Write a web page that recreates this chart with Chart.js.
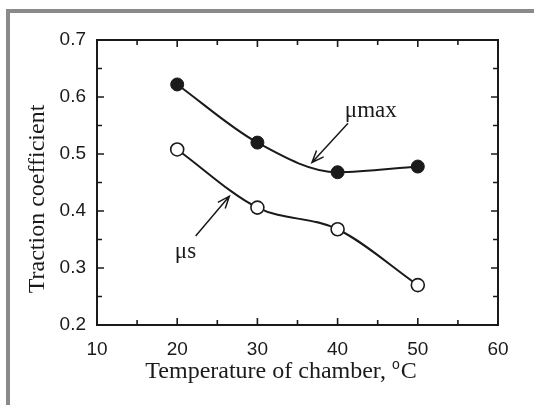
<!DOCTYPE html>
<html>
<head>
<meta charset="utf-8">
<script src="https://cdn.jsdelivr.net/npm/chart.js@4.4.0/dist/chart.umd.min.js"></script>
<style>
  html, body { margin: 0; padding: 0; background: #fff; }
  #wrap { position: relative; width: 534px; height: 405px; overflow: hidden; background: #fff; }
  #frame { position: absolute; left: 6px; top: 9px; width: 600px; height: 500px;
           border-left: 4px solid #8a8a8a; border-top: 4px solid #8a8a8a; }
  canvas { position: absolute; left: 0; top: 0; }
</style>
</head>
<body>
<div id="wrap">
  <div id="frame"></div>
  <canvas id="chart" width="534" height="405"></canvas>
</div>
<script>
// data
const temperatures = [20, 30, 40, 50];
const muMax = [0.622, 0.520, 0.468, 0.478];
const muS = [0.508, 0.406, 0.368, 0.270];

// tick labels
const xTicks = [10, 20, 30, 40, 50, 60];
const yTicks = [0.2, 0.3, 0.4, 0.5, 0.6, 0.7];
const xMinor = [15, 25, 35, 45, 55];
const yMinor = [0.25, 0.35, 0.45, 0.55, 0.65];

// annotation labels and arrows, in data units
const labels = [
  { text: '\u03bcmax', x: 40.9, y: 0.575 },
  { text: '\u03bcs', x: 19.7, y: 0.328 },
];
const arrows = [
  { from: [41.3, 0.554], to: [36.8, 0.485] },
  { from: [22.3, 0.356], to: [26.5, 0.426] },
];

const INK = '#1a1a1a';
const SERIF = '"Liberation Serif", "Times New Roman", serif';
const SANS = '"Liberation Sans", Arial, sans-serif';

const toXY = (ys) => temperatures.map((t, i) => ({ x: t, y: ys[i] }));

// frame, inward ticks, axis titles and the arrows
const decorations = {
  id: 'decorations',
  afterDraw(chart) {
    const { ctx, chartArea: a, scales } = chart;
    const xs = scales.x, ys = scales.y;
    ctx.save();
    ctx.strokeStyle = INK;
    ctx.lineWidth = 2;
    ctx.strokeRect(a.left, a.top, a.right - a.left, a.bottom - a.top);

    ctx.lineWidth = 1.6;
    const tickX = (v, len) => {
      const px = xs.getPixelForValue(v);
      ctx.beginPath();
      ctx.moveTo(px, a.bottom); ctx.lineTo(px, a.bottom - len);
      ctx.moveTo(px, a.top); ctx.lineTo(px, a.top + len);
      ctx.stroke();
    };
    const tickY = (v, len) => {
      const py = ys.getPixelForValue(v);
      ctx.beginPath();
      ctx.moveTo(a.left, py); ctx.lineTo(a.left + len, py);
      ctx.moveTo(a.right, py); ctx.lineTo(a.right - len, py);
      ctx.stroke();
    };
    xTicks.forEach(v => tickX(v, 7));
    xMinor.forEach(v => tickX(v, 5));
    yTicks.forEach(v => tickY(v, 7));
    yMinor.forEach(v => tickY(v, 5));

    // axis titles
    ctx.fillStyle = INK;
    ctx.textBaseline = 'middle';
    const main = 'Temperature of chamber, ';
    ctx.font = '24px ' + SERIF;
    const w1 = ctx.measureText(main).width;
    ctx.font = '14px ' + SANS;
    const w2 = ctx.measureText('o').width;
    ctx.font = '24px ' + SERIF;
    const w3 = ctx.measureText('C').width;
    const cx = 281;
    const x0 = cx - (w1 + w2 + w3 + 1) / 2;
    const ty = 372;
    ctx.textAlign = 'left';
    ctx.fillText(main, x0, ty);
    ctx.font = '14px ' + SANS;
    ctx.fillText('o', x0 + w1, ty - 7);
    ctx.font = '24px ' + SERIF;
    ctx.fillText('C', x0 + w1 + w2 + 1, ty);

    ctx.save();
    ctx.translate(38, 199);
    ctx.rotate(-Math.PI / 2);
    ctx.textAlign = 'center';
    ctx.fillText('Traction coefficient', 0, 0);
    ctx.restore();

    // annotation text
    ctx.font = '23px ' + SERIF;
    ctx.textAlign = 'left';
    labels.forEach(l => {
      ctx.fillText(l.text, xs.getPixelForValue(l.x), ys.getPixelForValue(l.y));
    });

    // arrows with open heads
    ctx.lineWidth = 1.5;
    arrows.forEach(ar => {
      const x1 = xs.getPixelForValue(ar.from[0]), y1 = ys.getPixelForValue(ar.from[1]);
      const x2 = xs.getPixelForValue(ar.to[0]), y2 = ys.getPixelForValue(ar.to[1]);
      const ang = Math.atan2(y2 - y1, x2 - x1);
      const hl = 13, spread = 0.38;
      ctx.beginPath();
      ctx.moveTo(x1, y1); ctx.lineTo(x2, y2);
      ctx.moveTo(x2 - hl * Math.cos(ang - spread), y2 - hl * Math.sin(ang - spread));
      ctx.lineTo(x2, y2);
      ctx.lineTo(x2 - hl * Math.cos(ang + spread), y2 - hl * Math.sin(ang + spread));
      ctx.stroke();
    });
    ctx.restore();
  }
};

const fixTicks = (list) => (scale) => { scale.ticks = list.map(v => ({ value: v })); };

new Chart(document.getElementById('chart'), {
  type: 'scatter',
  data: {
    datasets: [
      {
        label: '\u03bcmax',
        data: toXY(muMax),
        showLine: true,
        cubicInterpolationMode: 'monotone',
        borderColor: INK,
        borderWidth: 2,
        pointRadius: 6.5,
        pointBackgroundColor: INK,
        pointBorderColor: INK,
        pointBorderWidth: 1,
      },
      {
        label: '\u03bcs',
        data: toXY(muS),
        showLine: true,
        cubicInterpolationMode: 'monotone',
        borderColor: INK,
        borderWidth: 2,
        pointRadius: 6.5,
        pointBackgroundColor: '#fff',
        pointBorderColor: INK,
        pointBorderWidth: 1.6,
      },
    ],
  },
  options: {
    responsive: false,
    animation: false,
    layout: { padding: 0 },
    plugins: { legend: { display: false }, tooltip: { enabled: false } },
    scales: {
      x: {
        type: 'linear', position: 'bottom', min: 10, max: 60,
        afterBuildTicks: fixTicks(xTicks),
        afterFit: (s) => { s.height = 80; },
        grid: { display: false, drawTicks: false },
        border: { display: false },
        ticks: { color: INK, padding: 13, font: { family: SANS, size: 19 } },
      },
      xTop: {
        type: 'linear', position: 'top', min: 10, max: 60,
        afterFit: (s) => { s.height = 40; },
        grid: { display: false, drawTicks: false },
        border: { display: false },
        ticks: { display: false },
      },
      y: {
        type: 'linear', position: 'left', min: 0.2, max: 0.7,
        afterBuildTicks: fixTicks(yTicks),
        afterFit: (s) => { s.width = 97; },
        grid: { display: false, drawTicks: false },
        border: { display: false },
        ticks: {
          color: INK, padding: 11, font: { family: SANS, size: 19 },
          callback: (v) => v.toFixed(1),
        },
      },
      yRight: {
        type: 'linear', position: 'right', min: 0.2, max: 0.7,
        afterFit: (s) => { s.width = 36; },
        grid: { display: false, drawTicks: false },
        border: { display: false },
        ticks: { display: false },
      },
    },
  },
  plugins: [decorations],
});
</script>
</body>
</html>
